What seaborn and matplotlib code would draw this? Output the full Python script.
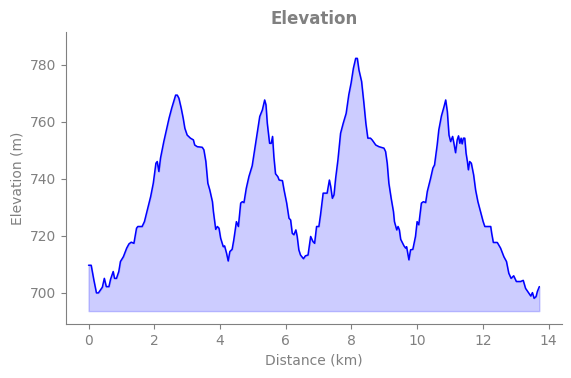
import matplotlib
matplotlib.use("Agg")
import matplotlib.pyplot as plt
import seaborn as sns
import numpy as np
import pandas as pd

distance_km = [0.0, 0.08, 0.16, 0.24, 0.3, 0.42, 0.48, 0.54, 0.62, 0.67, 0.75, 0.79, 0.85, 0.92, 0.97,
               1.06, 1.16, 1.23, 1.3, 1.38, 1.46, 1.5, 1.63, 1.7, 1.8, 1.89, 1.97, 2.05, 2.09, 2.14,
               2.19, 2.29, 2.37, 2.45, 2.53, 2.6, 2.65, 2.7, 2.75, 2.82, 2.88, 2.93, 3.0, 3.1, 3.19,
               3.23, 3.31, 3.46, 3.51, 3.57, 3.63, 3.69, 3.77, 3.8, 3.84, 3.87, 3.92, 3.97, 4.02, 4.1,
               4.14, 4.2, 4.25, 4.3, 4.37, 4.42, 4.5, 4.56, 4.63, 4.68, 4.73, 4.8, 4.88, 4.98, 5.03,
               5.13, 5.21, 5.29, 5.36, 5.4, 5.44, 5.51, 5.56, 5.6, 5.64, 5.69, 5.76, 5.8, 5.9, 5.95,
               6.03, 6.1, 6.15, 6.2, 6.25, 6.31, 6.35, 6.4, 6.45, 6.54, 6.6, 6.68, 6.76, 6.83, 6.88,
               6.94, 7.01, 7.06, 7.14, 7.21, 7.26, 7.33, 7.37, 7.42, 7.47, 7.52, 7.59, 7.67, 7.75, 7.84,
               7.92, 7.99, 8.06, 8.13, 8.18, 8.23, 8.31, 8.38, 8.44, 8.5, 8.58, 8.63, 8.74, 8.84, 8.99,
               9.04, 9.09, 9.14, 9.21, 9.28, 9.31, 9.38, 9.42, 9.46, 9.5, 9.6, 9.65, 9.68, 9.75, 9.8,
               9.87, 9.95, 10.0, 10.05, 10.13, 10.19, 10.26, 10.31, 10.41, 10.48, 10.53, 10.61, 10.66, 10.74, 10.82,
               10.87, 10.92, 10.97, 11.02, 11.08, 11.12, 11.17, 11.22, 11.26, 11.3, 11.34, 11.37, 11.41, 11.45, 11.49,
               11.53, 11.56, 11.6, 11.65, 11.72, 11.78, 11.85, 11.93, 12.01, 12.06, 12.24, 12.27, 12.32, 12.44, 12.54,
               12.64, 12.72, 12.79, 12.86, 12.94, 13.02, 13.15, 13.23, 13.3, 13.4, 13.46, 13.51, 13.56, 13.62, 13.66,
               13.72]

elevation_m = [709.7, 709.7, 704.6, 700.0, 700.0, 702.0, 705.1, 702.2, 702.2, 704.8, 707.5, 705.1, 705.1, 707.5, 711.0,
               712.7, 715.7, 717.2, 717.8, 717.4, 722.7, 723.3, 723.3, 725.0, 729.7, 733.8, 738.5, 745.5, 746.1, 742.6,
               747.3, 753.1, 757.2, 761.3, 764.8, 767.5, 769.4, 769.4, 768.3, 764.8, 761.3, 757.8, 755.4, 754.3, 753.7,
               751.9, 751.3, 751.1, 750.2, 746.1, 738.5, 736.1, 732.0, 728.5, 725.0, 722.3, 723.3, 722.7, 719.2, 716.2,
               716.5, 713.9, 711.2, 714.5, 715.3, 718.6, 725.0, 723.3, 731.5, 732.0, 731.7, 736.7, 740.8, 744.6, 748.4,
               756.0, 761.9, 764.2, 767.7, 766.0, 759.5, 752.5, 752.5, 754.9, 747.8, 741.8, 740.8, 739.6, 739.4, 736.1,
               731.5, 726.2, 725.6, 720.9, 720.4, 722.1, 719.8, 715.1, 713.3, 712.0, 713.0, 713.3, 719.8, 718.0, 717.4,
               723.3, 723.3, 727.4, 735.0, 735.0, 735.0, 739.6, 737.3, 733.2, 734.4, 740.2, 746.7, 756.0, 759.5, 763.0,
               769.5, 773.6, 778.8, 782.3, 782.3, 778.2, 774.2, 766.6, 759.5, 754.3, 754.3, 753.7, 751.9, 751.3, 750.8,
               749.6, 745.5, 738.5, 733.2, 728.5, 725.0, 722.1, 723.3, 722.1, 718.8, 716.5, 715.7, 716.2, 711.6, 715.1,
               715.3, 719.8, 725.0, 723.9, 731.5, 732.0, 731.7, 735.6, 740.2, 743.8, 744.9, 751.9, 757.2, 762.1, 765.4,
               767.7, 763.6, 755.4, 753.1, 754.9, 752.5, 749.2, 753.7, 755.1, 752.5, 754.3, 752.3, 754.3, 754.3, 749.0,
               746.1, 743.2, 746.1, 745.5, 741.4, 736.1, 732.0, 728.5, 725.0, 723.3, 723.3, 720.9, 717.7, 717.7, 715.7,
               712.7, 711.0, 706.9, 705.1, 706.0, 704.0, 704.0, 704.4, 701.6, 699.9, 698.9, 700.1, 698.1, 698.7, 700.5,
               702.2]

df = pd.DataFrame({"Distance (km)": distance_km, "Elevation (m)": elevation_m})

sns.set_style("ticks")
grey = "#808080"
plt.rcParams.update({
    "text.color": grey,
    "axes.labelcolor": grey,
    "xtick.color": grey,
    "ytick.color": grey,
    "axes.edgecolor": grey,
})

fig, ax = plt.subplots(figsize=(5.71, 3.78), dpi=100)
fig.subplots_adjust(left=0.1156, right=0.984, top=0.915, bottom=0.143)

base = min(elevation_m) - 4.5
ax.fill_between(df["Distance (km)"], df["Elevation (m)"], base, color="blue", alpha=0.2)
sns.lineplot(data=df, x="Distance (km)", y="Elevation (m)", ax=ax, color="blue", linewidth=1.1)

ax.set_ylim(min(elevation_m) - 9, max(elevation_m) + 9.2)
ax.set_yticks([700, 720, 740, 760, 780])
ax.set_title("Elevation", fontsize=12, fontweight="bold", color=grey)
ax.set_xlabel("Distance (km)", fontsize=10)
ax.set_ylabel("Elevation (m)", fontsize=10)
ax.tick_params(labelsize=10)
sns.despine(ax=ax)

fig.savefig("out.png", dpi=100)
